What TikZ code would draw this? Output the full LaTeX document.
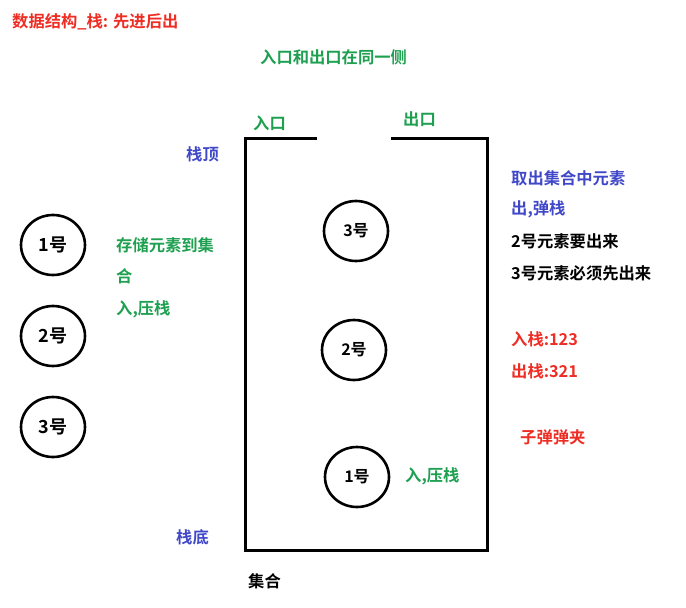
\documentclass[tikz,border=0pt]{standalone}
\usepackage{fontspec}
\setmainfont{Noto Sans CJK SC Bold}
\usetikzlibrary{shapes}
\definecolor{titlered}{RGB}{238,45,36}
\definecolor{notegreen}{RGB}{30,160,80}
\definecolor{noteblue}{RGB}{64,72,200}
\tikzset{
  txt/.style={anchor=west,inner sep=0pt,font=\fontsize{16.3}{19}\selectfont},
  elem/.style={draw,ellipse,line width=2.6pt,minimum width=64pt,minimum height=60pt,inner sep=0pt,font=\fontsize{16}{18}\selectfont},
  bigelem/.style={elem,font=\fontsize{18}{20}\selectfont}
}
\begin{document}
\begin{tikzpicture}[x=1pt,y=-1pt]
\useasboundingbox (0,0) rectangle (686,608);
\draw (12,22) node[txt,text=titlered] (title) {数据结构\_栈: 先进后出};
\draw (260,57) node[txt,text=notegreen] (sameside) {入口和出口在同一侧};
% the stack
\draw[line width=3pt] (317,138) -- (245,138) -- (245,550) -- (487,550) -- (487,138) -- (391,138);
\draw (253,123) node[txt,text=notegreen] (entry) {入口};
\draw (403,119) node[txt,text=notegreen] (exit) {出口};
\draw (186,154) node[txt,text=noteblue] (top) {栈顶};
\draw (176,537) node[txt,text=noteblue] (bottom) {栈底};
\draw (248,581) node[txt] (coll) {集合};
% elements waiting
\draw (53,245) node[bigelem] (outA) {1号};
\draw (53,336) node[bigelem] (outB) {2号};
\draw (53,427) node[bigelem] (outC) {3号};
\draw (116,245) node[txt,text=notegreen] (store) {存储元素到集};
\draw (116,276) node[txt,text=notegreen] (store2) {合};
\draw (116,309) node[txt,text=notegreen] (push) {入,压栈};
% elements inside
\draw (356,231) node[elem] (inC) {3号};
\draw (354,350) node[elem] (inB) {2号};
\draw (357,477) node[elem] (inA) {1号};
\draw (405,476) node[txt,text=notegreen] (push2) {入,压栈};
% right notes
\draw (511,178) node[txt,text=noteblue] (take) {取出集合中元素};
\draw (511,209) node[txt,text=noteblue] (pop) {出,弹栈};
\draw (511,241) node[txt] (out2) {2号元素要出来};
\draw (511,273) node[txt] (out3) {3号元素必须先出来};
\draw (511,339) node[txt,text=titlered] (inorder) {入栈:123};
\draw (511,371) node[txt,text=titlered] (outorder) {出栈:321};
\draw (520,437) node[txt,text=titlered] (clip) {子弹弹夹};
\end{tikzpicture}
\end{document}
